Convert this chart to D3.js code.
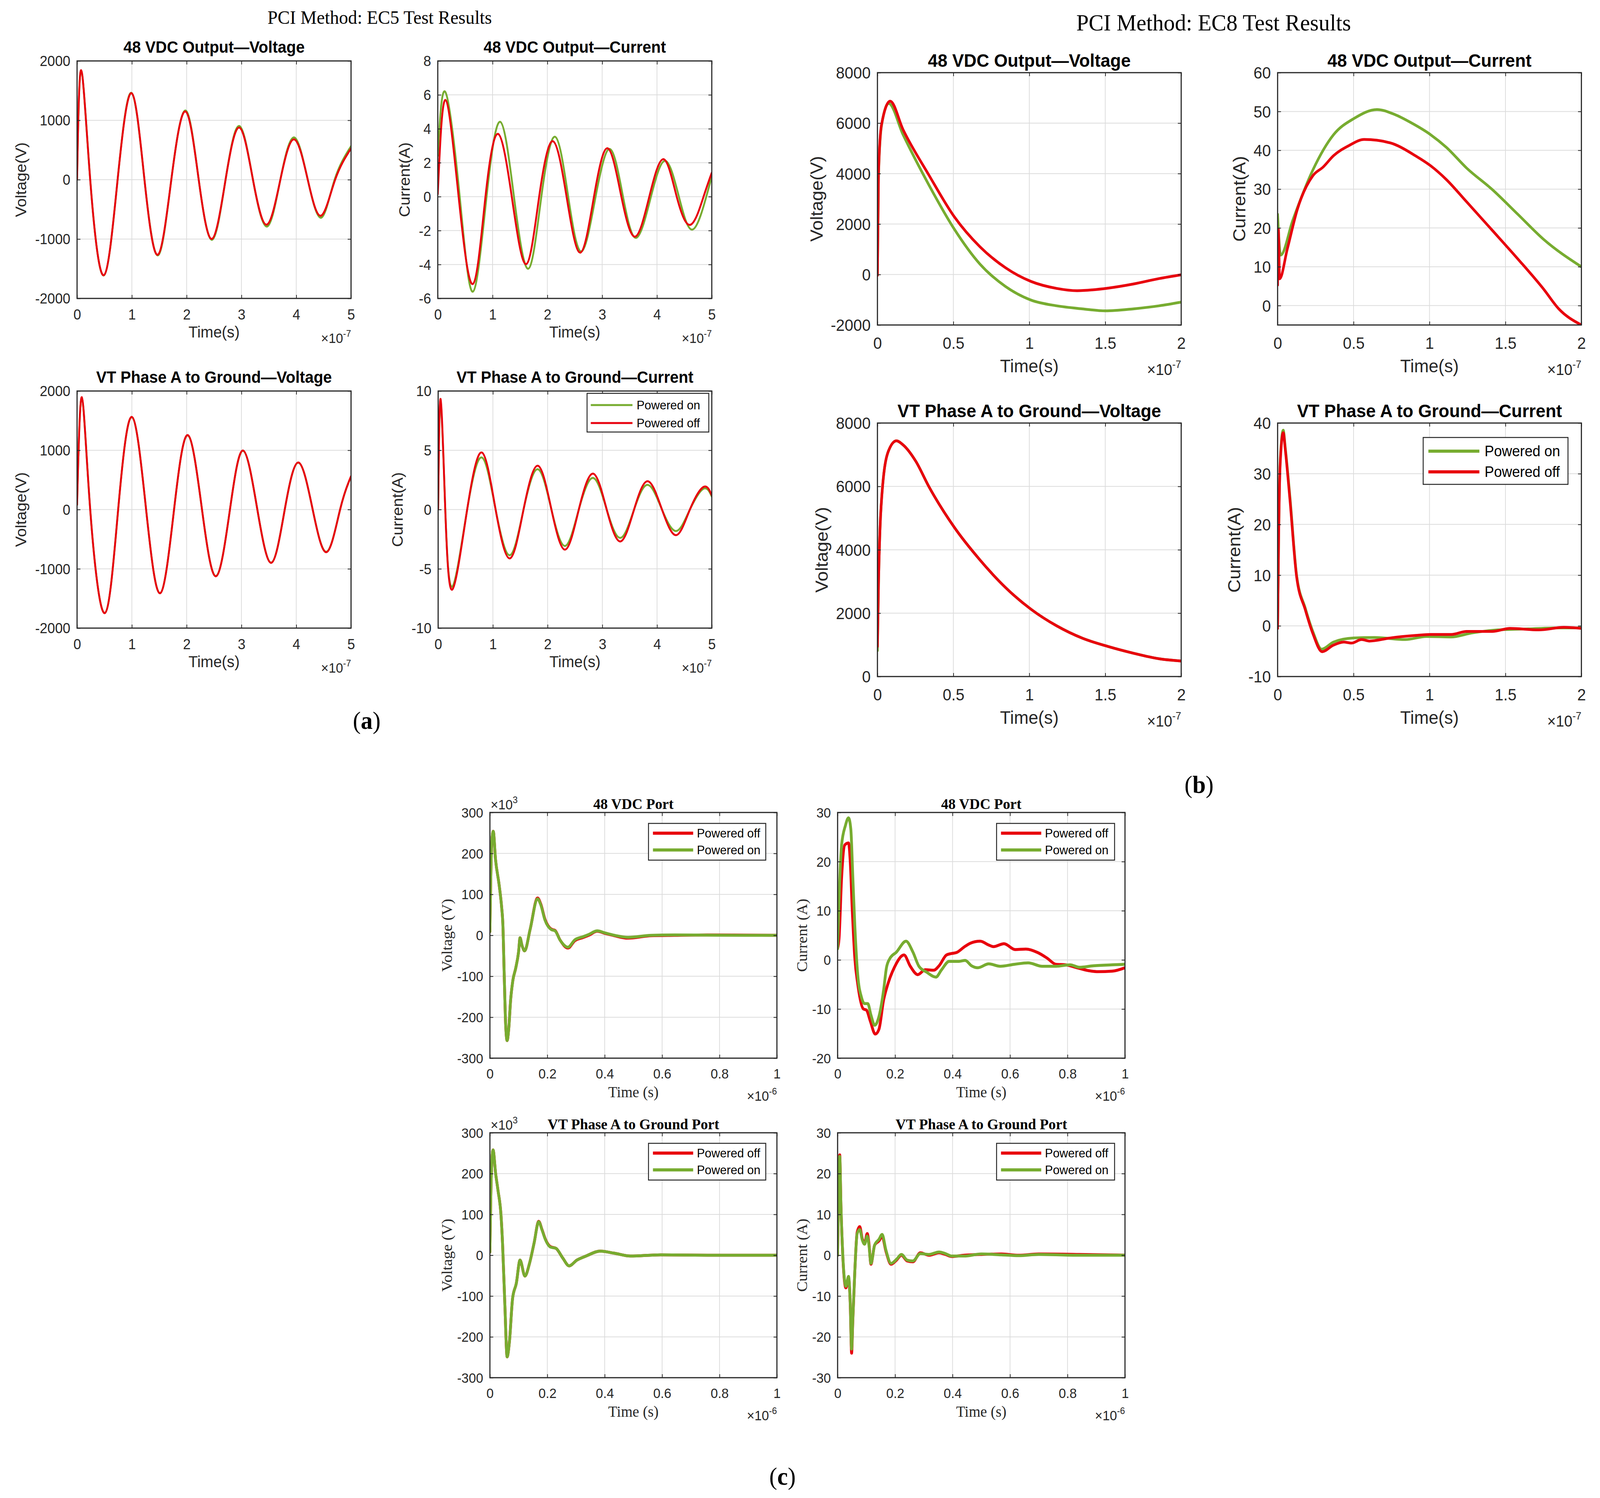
<!DOCTYPE html>
<html>
<head>
<meta charset="utf-8">
<script src="https://cdn.jsdelivr.net/npm/d3@7/dist/d3.min.js"></script>
<style>
  html, body { margin: 0; padding: 0; background: #fff; overflow: hidden; }
  svg { display: block; width: 100vw; height: 100vh; }
</style>
</head>
<body>
<div id="chart-area"></div>
<script>
/*
*    PCI method test results - panels (a) EC5, (b) EC8, (c) port measurements
*    time values are in the axis units (x1e-7 s for a/b, x1e-6 s for c)
*/

// ---------- tick labels ----------
var ticksAx = [0, 1, 2, 3, 4, 5];
var ticksBx = [0, 0.5, 1, 1.5, 2];
var ticksCx = [0, 0.2, 0.4, 0.6, 0.8, 1];
var ticksA1y = [-2000, -1000, 0, 1000, 2000];
var ticksA2y = [-6, -4, -2, 0, 2, 4, 6, 8];
var ticksA4y = [-10, -5, 0, 5, 10];
var ticksB1y = [-2000, 0, 2000, 4000, 6000, 8000];
var ticksB2y = [0, 10, 20, 30, 40, 50, 60];
var ticksB3y = [0, 2000, 4000, 6000, 8000];
var ticksB4y = [-10, 0, 10, 20, 30, 40];
var ticksC1y = [-300, -200, -100, 0, 100, 200, 300];
var ticksC2y = [-20, -10, 0, 10, 20, 30];
var ticksC4y = [-30, -20, -10, 0, 10, 20, 30];

// ---------- (a) EC5 ----------
var a1On = [[0,0],[0.075,1840],[0.24,0],[0.487,-1612],[0.74,0],[0.99,1462],[1.23,0],[1.475,-1275],[1.72,0],[1.98,1165],[2.22,0],[2.465,-1012],[2.71,0],[2.96,905],[3.21,0],[3.465,-790],[3.71,0],[3.96,712],[4.21,0],[4.455,-640],[4.7,0],[5,565]];
var a1Off = [[0,0],[0.075,1844],[0.24,0],[0.487,-1609],[0.74,0],[0.993,1457],[1.23,0],[1.47,-1265],[1.72,0],[1.976,1150],[2.22,0],[2.46,-998],[2.71,0],[2.96,878],[3.21,0],[3.46,-758],[3.71,0],[3.96,679],[4.21,0],[4.45,-607],[4.71,0],[5,527]];

var a2On = [[0,2.4],[0.14,6.16],[0.40,0],[0.64,-5.6],[0.89,0],[1.14,4.41],[1.39,0],[1.65,-4.25],[1.89,0],[2.14,3.53],[2.38,0],[2.62,-3.23],[2.88,0],[3.14,2.81],[3.38,0],[3.62,-2.43],[3.89,0],[4.15,2.11],[4.40,0],[4.65,-1.94],[4.9,0],[5,1.2]];
var a2Off = [[0,0.15],[0.14,5.7],[0.38,0],[0.64,-5.15],[0.87,0],[1.10,3.7],[1.35,0],[1.61,-3.98],[1.85,0],[2.10,3.27],[2.35,0],[2.60,-3.30],[2.85,0],[3.10,2.85],[3.35,0],[3.60,-2.36],[3.86,0],[4.12,2.21],[4.36,0],[4.61,-1.66],[4.85,0],[5,1.41]];

var a3On = [[0,80],[0.087,1890],[0.24,0],[0.505,-1745],[0.75,0],[1.00,1560],[1.26,0],[1.515,-1410],[1.77,0],[2.02,1252],[2.28,0],[2.535,-1122],[2.79,0],[3.03,992],[3.29,0],[3.545,-895],[3.79,0],[4.04,790],[4.3,0],[4.555,-712],[4.8,0],[5,560]];
var a3Off = [[0,80],[0.087,1895],[0.24,0],[0.505,-1748],[0.75,0],[1.00,1563],[1.26,0],[1.515,-1412],[1.77,0],[2.02,1256],[2.28,0],[2.535,-1126],[2.79,0],[3.03,996],[3.29,0],[3.545,-899],[3.79,0],[4.04,794],[4.3,0],[4.555,-718],[4.8,0],[5,563]];

var a4On = [[0,0],[0.044,9.2],[0.13,0],[0.26,-6.5],[0.53,0],[0.80,4.39],[1.05,0],[1.31,-3.85],[1.56,0],[1.82,3.40],[2.07,0],[2.32,-3.07],[2.57,0],[2.83,2.67],[3.08,0],[3.33,-2.39],[3.58,0],[3.83,2.08],[4.09,0],[4.35,-1.81],[4.6,0],[4.85,1.76],[5,1.1]];
var a4Off = [[0,0],[0.044,9.33],[0.13,0],[0.26,-6.74],[0.53,0],[0.80,4.81],[1.05,0],[1.31,-4.12],[1.56,0],[1.82,3.70],[2.07,0],[2.32,-3.38],[2.57,0],[2.83,3.03],[3.08,0],[3.33,-2.69],[3.58,0],[3.83,2.39],[4.09,0],[4.35,-2.16],[4.6,0],[4.85,1.91],[5,1.2]];

// ---------- (b) EC8 ----------
var b1On = [[0,-30],[0.007,3900],[0.027,5900],[0.074,6780],[0.169,5540],[0.337,3570],[0.506,1800],[0.675,414],[0.843,-473],[1.012,-1015],[1.18,-1240],[1.349,-1360],[1.5,-1440],[1.686,-1360],[1.855,-1240],[2.0,-1095]];
var b1Off = [[0,-30],[0.007,3960],[0.027,5940],[0.084,6870],[0.169,5740],[0.337,3960],[0.506,2290],[0.675,1100],[0.843,270],[1.012,-276],[1.18,-550],[1.315,-640],[1.517,-540],[1.686,-375],[1.855,-160],[2.0,-10]];

var b2On = [[0,23.5],[0.02,13],[0.1,22],[0.233,35],[0.368,44],[0.503,48.2],[0.654,50.5],[0.772,49.2],[0.874,47.2],[1.008,44],[1.11,40.8],[1.245,35.4],[1.413,29.9],[1.582,23.5],[1.75,17.1],[2.0,10]];
var b2Off = [[0,5.3],[0.005,19.7],[0.013,6.9],[0.064,14.6],[0.13,24.8],[0.233,33.5],[0.30,35.7],[0.368,38.6],[0.469,41.2],[0.57,42.8],[0.654,42.6],[0.772,41.5],[0.907,38.6],[1.008,36.0],[1.11,32.5],[1.245,26.7],[1.413,19.4],[1.582,12],[1.75,4.3],[1.85,-0.8],[2.0,-5]];

var b3On = [[0,820],[0.007,2900],[0.034,6010],[0.074,7135],[0.125,7440],[0.169,7310],[0.253,6790],[0.337,6010],[0.506,4710],[0.675,3680],[0.843,2810],[1.012,2120],[1.18,1600],[1.349,1210],[1.517,950],[1.686,735],[1.855,560],[2.0,490]];
var b3Off = [[0,950],[0.007,2900],[0.034,6010],[0.074,7135],[0.125,7440],[0.169,7310],[0.253,6790],[0.337,6010],[0.506,4710],[0.675,3680],[0.843,2810],[1.012,2120],[1.18,1600],[1.349,1210],[1.517,950],[1.686,735],[1.855,560],[2.0,490]];

var b4On = [[0,-0.5],[0.007,18],[0.017,32.5],[0.037,38.6],[0.051,35],[0.081,25.5],[0.125,10],[0.182,3.5],[0.233,-1.2],[0.29,-4.6],[0.368,-3.2],[0.5,-2.4],[0.64,-2.3],[0.84,-2.7],[0.98,-2.1],[1.14,-2.2],[1.28,-1.4],[1.45,-0.8],[1.65,-0.6],[1.85,-0.4],[2.0,-0.4]];
var b4Off = [[0,-0.5],[0.007,17.8],[0.017,31.9],[0.037,38.1],[0.051,34.6],[0.081,24.9],[0.125,9.7],[0.182,3.2],[0.233,-1.6],[0.293,-5.1],[0.368,-3.8],[0.435,-3.2],[0.486,-3.4],[0.553,-2.7],[0.604,-3],[0.739,-2.4],[0.907,-1.9],[1.008,-1.7],[1.143,-1.7],[1.245,-1.1],[1.413,-1.1],[1.53,-0.5],[1.72,-0.8],[1.885,-0.3],[2.0,-0.5]];

// ---------- (c) ports (voltage in x1e3 V) ----------
var c1On = [[0,9],[0.006,221],[0.0117,254],[0.0195,186],[0.0324,122],[0.041,68],[0.045,30],[0.05,-100],[0.055,-220],[0.06,-257],[0.066,-225],[0.072,-160],[0.08,-110],[0.09,-80],[0.1,-40],[0.105,-6],[0.112,-25],[0.121,-38],[0.14,14],[0.166,89],[0.177,75],[0.192,37],[0.214,14],[0.227,11],[0.244,-11],[0.272,-29],[0.296,-11],[0.326,-3],[0.344,2],[0.374,11],[0.4,6],[0.434,0],[0.481,-5],[0.562,0],[0.643,1],[0.757,0.5],[0.887,0],[1.0,0]];
var c1Off = [[0,9],[0.006,221],[0.0117,254],[0.0195,186],[0.0324,122],[0.041,68],[0.045,30],[0.05,-100],[0.055,-220],[0.06,-257],[0.066,-225],[0.072,-160],[0.08,-110],[0.09,-80],[0.1,-40],[0.105,-6],[0.112,-25],[0.121,-38],[0.14,14],[0.166,91],[0.177,77],[0.192,39],[0.214,15],[0.227,12],[0.244,-11],[0.272,-31],[0.296,-13],[0.326,-5],[0.344,0],[0.374,10],[0.4,5],[0.434,-1],[0.481,-7],[0.562,-1],[0.643,0],[0.757,1],[0.887,0.5],[1.0,0]];

var c2On = [[0,2.3],[0.005,12.2],[0.014,23.4],[0.027,27.3],[0.038,28.9],[0.046,26.6],[0.053,16.8],[0.06,6.9],[0.07,-3],[0.083,-7.6],[0.094,-8.9],[0.105,-8.9],[0.116,-11.2],[0.129,-13.3],[0.144,-11.5],[0.16,-6.2],[0.17,-1.6],[0.181,0.2],[0.205,1.6],[0.238,3.8],[0.262,1.6],[0.283,-1.3],[0.31,-2.5],[0.342,-3.5],[0.362,-2],[0.388,-0.3],[0.422,-0.3],[0.444,-0.1],[0.466,-1.2],[0.488,-1.6],[0.526,-0.8],[0.566,-1.3],[0.615,-0.9],[0.663,-0.6],[0.712,-1.3],[0.76,-1.3],[0.809,-1.0],[0.841,-1.5],[0.89,-1.2],[0.955,-1.0],[1.0,-0.9]];
var c2Off = [[0,2.3],[0.005,4.3],[0.014,16.8],[0.025,23.4],[0.038,23.8],[0.044,20],[0.051,10.2],[0.06,0.3],[0.07,-4.9],[0.09,-10],[0.1,-10.2],[0.114,-12.5],[0.131,-15.1],[0.144,-14.1],[0.16,-8.2],[0.175,-4.9],[0.197,-1.6],[0.231,1.0],[0.253,-1.3],[0.279,-3],[0.305,-2],[0.335,-2.1],[0.353,-1.2],[0.379,1],[0.396,1.3],[0.414,1.5],[0.44,2.6],[0.462,3.4],[0.496,3.8],[0.527,3],[0.542,2.7],[0.579,3.3],[0.618,2.1],[0.655,2.2],[0.696,1.5],[0.728,0.4],[0.76,-0.9],[0.793,-1.0],[0.833,-1.6],[0.874,-2.2],[0.906,-2.4],[0.955,-2.3],[1.0,-1.6]];

var c3On = [[0,8],[0.005,200],[0.011,258],[0.02,200],[0.028,160],[0.039,95],[0.044,30],[0.052,-119],[0.06,-249],[0.068,-212],[0.079,-106],[0.092,-69],[0.105,-12],[0.122,-51],[0.138,-20],[0.154,30],[0.17,82],[0.182,61],[0.193,39],[0.211,20],[0.23,17],[0.254,-7],[0.276,-26],[0.303,-12],[0.335,-2],[0.384,10],[0.433,5],[0.489,-2],[0.595,1],[0.757,0],[1.0,0]];
var c3Off = [[0,8],[0.005,200],[0.011,258],[0.02,200],[0.028,160],[0.039,95],[0.044,30],[0.052,-119],[0.06,-249],[0.068,-212],[0.079,-106],[0.092,-69],[0.105,-12],[0.122,-51],[0.138,-20],[0.154,30],[0.17,83],[0.182,62],[0.193,40],[0.211,21],[0.23,17],[0.254,-7],[0.276,-26],[0.303,-12],[0.335,-2],[0.384,10],[0.433,5],[0.489,-2],[0.595,1],[0.757,0],[1.0,0]];

var c4On = [[0,0],[0.0074,24.2],[0.0117,12],[0.018,0.2],[0.025,-6.6],[0.029,-7.6],[0.038,-5.2],[0.044,-11.7],[0.0487,-23],[0.053,-15.7],[0.06,-3.8],[0.068,5.3],[0.077,6.3],[0.086,3.7],[0.094,2.7],[0.103,4.7],[0.109,2.5],[0.116,-2],[0.129,2.5],[0.144,3.9],[0.155,5.1],[0.168,1.3],[0.186,-2],[0.205,-1],[0.222,0.2],[0.242,-1.2],[0.262,-1.4],[0.288,0.4],[0.318,0.2],[0.353,0.8],[0.375,0.4],[0.397,-0.2],[0.44,-0.2],[0.5,0.3],[0.57,0.1],[0.63,-0.1],[0.7,0.2],[0.84,0],[1.0,0]];
var c4Off = [[0,0],[0.0074,24.6],[0.0117,12],[0.018,0],[0.025,-7],[0.029,-8],[0.038,-5.6],[0.044,-12],[0.0487,-24],[0.053,-16],[0.06,-3.8],[0.068,5.6],[0.077,7],[0.086,4],[0.094,3],[0.103,5.3],[0.109,3],[0.116,-2.2],[0.129,2.5],[0.144,3.5],[0.155,4.6],[0.168,1],[0.186,-2.2],[0.205,-1.2],[0.222,0],[0.242,-1.4],[0.262,-1.6],[0.288,0.6],[0.318,0],[0.353,0.6],[0.375,0.2],[0.397,-0.3],[0.44,0],[0.5,0.2],[0.57,0.3],[0.63,0],[0.7,0.3],[0.84,0.2],[1.0,0]];

// ---------- style ----------
var RED = "#e8000d";
var GREEN = "#77ac30";
var AXC = "#262626";
var SANS = "'Liberation Sans', Arial, sans-serif";
var SERIF = "'Liberation Serif', 'Times New Roman', serif";

var styleA = {tick: 37, label: 41, labelFont: SANS, title: 42, titleFont: SANS, lw: 5,
  titleGap: 21, xTickBase: 54, xLabelBase: 100, expBase: 114, exp: 35, sup: 24, yLabelGap: 24,
  legend: 32, legendLw: 5, legendRows: [30, 76], legendLine: [10, 122], legendText: 133,
  curve: d3.curveNatural};
var styleB = {tick: 42, label: 47, labelFont: SANS, title: 47, titleFont: SANS, lw: 7,
  titleGap: 15, xTickBase: 61, xLabelBase: 121, expBase: 128, exp: 40, sup: 27, yLabelGap: 22,
  legend: 38, legendLw: 8, legendRows: [35, 88], legendLine: [14, 151], legendText: 165,
  curve: d3.curveMonotoneX};
var styleC = {tick: 35, label: 40, labelFont: SERIF, title: 39, titleFont: SERIF, lw: 7.5,
  titleGap: 9, xTickBase: 52, xLabelBase: 100, expBase: 109, exp: 35, sup: 24, yLabelGap: 14,
  legend: 32, legendLw: 8, legendRows: [25, 68], legendLine: [12, 120], legendText: 130,
  curve: d3.curveMonotoneX};

var legOnOff = [{label: "Powered on", color: GREEN}, {label: "Powered off", color: RED}];
var legOffOn = [{label: "Powered off", color: RED}, {label: "Powered on", color: GREEN}];

var plots = [
  {st: styleA, left: 207, top: 156, w: 736, h: 608, xDomain: [0, 5], yDomain: [-2000, 2000], xTicks: ticksAx, yTicks: ticksA1y,
    title: "48 VDC Output\u2014Voltage", yLabel: "Voltage(V)", xLabel: "Time(s)", xExp: "-7",
    series: [{data: a1On, color: GREEN}, {data: a1Off, color: RED}]},
  {st: styleA, left: 1176, top: 156, w: 736, h: 608, xDomain: [0, 5], yDomain: [-6, 8], xTicks: ticksAx, yTicks: ticksA2y,
    title: "48 VDC Output\u2014Current", yLabel: "Current(A)", xLabel: "Time(s)", xExp: "-7",
    series: [{data: a2On, color: GREEN}, {data: a2Off, color: RED}]},
  {st: styleA, left: 207, top: 1001, w: 736, h: 607, xDomain: [0, 5], yDomain: [-2000, 2000], xTicks: ticksAx, yTicks: ticksA1y,
    title: "VT Phase A to Ground\u2014Voltage", yLabel: "Voltage(V)", xLabel: "Time(s)", xExp: "-7",
    series: [{data: a3On, color: GREEN}, {data: a3Off, color: RED}]},
  {st: styleA, left: 1177, top: 1001, w: 735, h: 607, xDomain: [0, 5], yDomain: [-10, 10], xTicks: ticksAx, yTicks: ticksA4y,
    title: "VT Phase A to Ground\u2014Current", yLabel: "Current(A)", xLabel: "Time(s)", xExp: "-7",
    series: [{data: a4On, color: GREEN}, {data: a4Off, color: RED}],
    legend: {x: 1577, y: 1007, w: 327, h: 99, items: legOnOff}},

  {st: styleB, left: 2357, top: 186, w: 816, h: 646, xDomain: [0, 2], yDomain: [-2000, 8000], xTicks: ticksBx, yTicks: ticksB1y,
    title: "48 VDC Output\u2014Voltage", yLabel: "Voltage(V)", xLabel: "Time(s)", xExp: "-7",
    series: [{data: b1On, color: GREEN}, {data: b1Off, color: RED}]},
  {st: styleB, left: 3432, top: 186, w: 816, h: 646, xDomain: [0, 2], yDomain: [-5, 60], xTicks: ticksBx, yTicks: ticksB2y,
    title: "48 VDC Output\u2014Current", yLabel: "Current(A)", xLabel: "Time(s)", xExp: "-7",
    series: [{data: b2On, color: GREEN}, {data: b2Off, color: RED}]},
  {st: styleB, left: 2357, top: 1083, w: 816, h: 649, xDomain: [0, 2], yDomain: [0, 8000], xTicks: ticksBx, yTicks: ticksB3y,
    title: "VT Phase A to Ground\u2014Voltage", yLabel: "Voltage(V)", xLabel: "Time(s)", xExp: "-7",
    series: [{data: b3On, color: GREEN}, {data: b3Off, color: RED}]},
  {st: styleB, left: 3432, top: 1083, w: 816, h: 649, xDomain: [0, 2], yDomain: [-10, 40], xTicks: ticksBx, yTicks: ticksB4y,
    title: "VT Phase A to Ground\u2014Current", yLabel: "Current(A)", xLabel: "Time(s)", xExp: "-7",
    series: [{data: b4On, color: GREEN}, {data: b4Off, color: RED}],
    legend: {x: 3823, y: 1120, w: 389, h: 120, items: legOnOff}},

  {st: styleC, left: 1316, top: 2080, w: 771, h: 629, xDomain: [0, 1], yDomain: [-300, 300], xTicks: ticksCx, yTicks: ticksC1y,
    title: "48 VDC Port", yLabel: "Voltage (V)", xLabel: "Time (s)", xExp: "-6", yExp: "3",
    series: [{data: c1Off, color: RED}, {data: c1On, color: GREEN}],
    legend: {x: 1742, y: 2108, w: 315, h: 94, items: legOffOn}},
  {st: styleC, left: 2250, top: 2080, w: 772, h: 629, xDomain: [0, 1], yDomain: [-20, 30], xTicks: ticksCx, yTicks: ticksC2y,
    title: "48 VDC Port", yLabel: "Current (A)", xLabel: "Time (s)", xExp: "-6",
    series: [{data: c2Off, color: RED}, {data: c2On, color: GREEN}],
    legend: {x: 2677, y: 2108, w: 317, h: 94, items: legOffOn}},
  {st: styleC, left: 1316, top: 2900, w: 771, h: 627, xDomain: [0, 1], yDomain: [-300, 300], xTicks: ticksCx, yTicks: ticksC1y,
    title: "VT Phase A to Ground Port", yLabel: "Voltage (V)", xLabel: "Time (s)", xExp: "-6", yExp: "3",
    series: [{data: c3Off, color: RED}, {data: c3On, color: GREEN}],
    legend: {x: 1742, y: 2927, w: 315, h: 94, items: legOffOn}},
  {st: styleC, left: 2250, top: 2900, w: 772, h: 627, xDomain: [0, 1], yDomain: [-30, 30], xTicks: ticksCx, yTicks: ticksC4y,
    title: "VT Phase A to Ground Port", yLabel: "Current (A)", xLabel: "Time (s)", xExp: "-6",
    series: [{data: c4Off, color: RED}, {data: c4On, color: GREEN}],
    legend: {x: 2677, y: 2927, w: 317, h: 94, items: legOffOn}}
];

// the drawing is laid out on a 4298 x 3835 grid and stretched to fill the window
var svg = d3.select("#chart-area").append("svg")
              .attr("viewBox", "0 0 4298 3835")
              .attr("preserveAspectRatio", "none");
svg.append("rect").attr("width", 4298).attr("height", 3835).attr("fill", "#fff");

function styleAxis(sel, st) {
  sel.select(".domain").remove();
  sel.selectAll(".tick line").attr("stroke", AXC).attr("stroke-width", 2);
  sel.selectAll("text")
     .attr("font-family", SANS)
     .attr("font-size", st.tick)
     .attr("fill", AXC);
}

function exponent(sel, sup, st) {
  sel.append("tspan").attr("font-size", st.exp).text("\u00d710");
  sel.append("tspan").attr("font-size", st.sup).attr("dy", -st.exp * 0.45).text(sup);
}

function drawPlot(p, i) {
  var st = p.st;
  var g = svg.append("g").attr("transform", "translate(" + p.left + ", " + p.top + ")");
  var x = d3.scaleLinear().domain(p.xDomain).range([0, p.w]);
  var y = d3.scaleLinear().domain(p.yDomain).range([p.h, 0]);

  // grid
  g.append("g").selectAll("line").data(p.xTicks).enter().append("line")
     .attr("x1", d => x(d)).attr("x2", d => x(d)).attr("y1", 0).attr("y2", p.h)
     .attr("stroke", "#dcdcdc").attr("stroke-width", 2);
  g.append("g").selectAll("line").data(p.yTicks).enter().append("line")
     .attr("y1", d => y(d)).attr("y2", d => y(d)).attr("x1", 0).attr("x2", p.w)
     .attr("stroke", "#dcdcdc").attr("stroke-width", 2);

  // series
  g.append("clipPath").attr("id", "clip" + i)
     .append("rect").attr("width", p.w).attr("height", p.h);
  var line = d3.line().x(d => x(d[0])).y(d => y(d[1])).curve(st.curve);
  p.series.forEach(s => {
    g.append("path").datum(s.data)
       .attr("clip-path", "url(#clip" + i + ")")
       .attr("fill", "none")
       .attr("stroke", s.color)
       .attr("stroke-width", st.lw)
       .attr("stroke-linejoin", "round")
       .attr("stroke-linecap", "round")
       .attr("d", line);
  });

  // axes, ticks pointing inside
  var fmt = d => String(d);
  g.append("g").attr("transform", "translate(0, " + p.h + ")")
     .call(d3.axisBottom(x).tickValues(p.xTicks).tickSizeInner(-9).tickSizeOuter(0)
             .tickPadding(st.xTickBase - 0.71 * st.tick).tickFormat(fmt))
     .call(s => styleAxis(s, st));
  g.append("g")
     .call(d3.axisTop(x).tickValues(p.xTicks).tickSizeInner(-9).tickSizeOuter(0).tickFormat(""))
     .call(s => styleAxis(s, st));
  var left = g.append("g")
     .call(d3.axisLeft(y).tickValues(p.yTicks).tickSizeInner(-9).tickSizeOuter(0)
             .tickPadding(18).tickFormat(fmt))
     .call(s => styleAxis(s, st));
  left.selectAll("text").attr("dy", "0.35em");
  g.append("g").attr("transform", "translate(" + p.w + ", 0)")
     .call(d3.axisRight(y).tickValues(p.yTicks).tickSizeInner(-9).tickSizeOuter(0).tickFormat(""))
     .call(s => styleAxis(s, st));

  g.append("rect")
     .attr("width", p.w).attr("height", p.h)
     .attr("fill", "none").attr("stroke", AXC).attr("stroke-width", 3);

  // title
  g.append("text")
     .attr("x", p.w / 2).attr("y", -st.titleGap)
     .attr("text-anchor", "middle")
     .attr("font-family", st.titleFont).attr("font-weight", "bold")
     .attr("font-size", st.title).attr("fill", "#000")
     .text(p.title);

  // x label and exponent
  g.append("text")
     .attr("x", p.w / 2).attr("y", p.h + st.xLabelBase)
     .attr("text-anchor", "middle")
     .attr("font-family", st.labelFont).attr("font-size", st.label).attr("fill", AXC)
     .text(p.xLabel);
  g.append("text")
     .attr("x", p.w).attr("y", p.h + st.expBase)
     .attr("text-anchor", "end")
     .attr("font-family", SANS).attr("fill", AXC)
     .call(s => exponent(s, p.xExp, st));

  if (p.yExp) {
    g.append("text")
       .attr("x", 2).attr("y", -8)
       .attr("font-family", SANS).attr("fill", AXC)
       .call(s => exponent(s, p.yExp, st));
  }

  // y label, placed left of the widest tick label
  var minX = d3.min(left.selectAll("text").nodes(), n => n.getBBox().x);
  g.append("text")
     .attr("transform", "translate(" + (minX - st.yLabelGap) + ", " + (p.h / 2) + ") rotate(-90)")
     .attr("text-anchor", "middle")
     .attr("font-family", st.labelFont).attr("font-size", st.label).attr("fill", AXC)
     .text(p.yLabel);

  // legend
  if (p.legend) {
    var L = p.legend;
    var lg = svg.append("g").attr("transform", "translate(" + L.x + ", " + L.y + ")");
    lg.append("rect").attr("width", L.w).attr("height", L.h)
       .attr("fill", "#fff").attr("stroke", AXC).attr("stroke-width", 2.5);
    L.items.forEach((it, k) => {
      var yy = st.legendRows[k];
      lg.append("line")
         .attr("x1", st.legendLine[0]).attr("x2", st.legendLine[1])
         .attr("y1", yy).attr("y2", yy)
         .attr("stroke", it.color).attr("stroke-width", st.legendLw);
      lg.append("text")
         .attr("x", st.legendText).attr("y", yy).attr("dy", "0.35em")
         .attr("font-family", SANS).attr("font-size", st.legend).attr("fill", "#000")
         .text(it.label);
    });
  }
}

plots.forEach((p, i) => drawPlot(p, i));

// panel headings and captions
svg.append("text")
   .attr("x", 1020).attr("y", 61)
   .attr("text-anchor", "middle")
   .attr("font-family", SERIF).attr("font-size", 49).attr("fill", "#000")
   .text("PCI Method: EC5 Test Results");
svg.append("text")
   .attr("x", 3260).attr("y", 78)
   .attr("text-anchor", "middle")
   .attr("font-family", SERIF).attr("font-size", 60).attr("fill", "#000")
   .text("PCI Method: EC8 Test Results");

var captions = [["a", 985, 1866], ["b", 3221, 2030], ["c", 2102, 3801]];
captions.forEach(c => {
  var t = svg.append("text")
     .attr("x", c[1]).attr("y", c[2])
     .attr("text-anchor", "middle")
     .attr("font-family", SERIF).attr("font-size", 64).attr("fill", "#000");
  t.append("tspan").text("(");
  t.append("tspan").attr("font-weight", "bold").text(c[0]);
  t.append("tspan").text(")");
});
</script>
</body>
</html>
